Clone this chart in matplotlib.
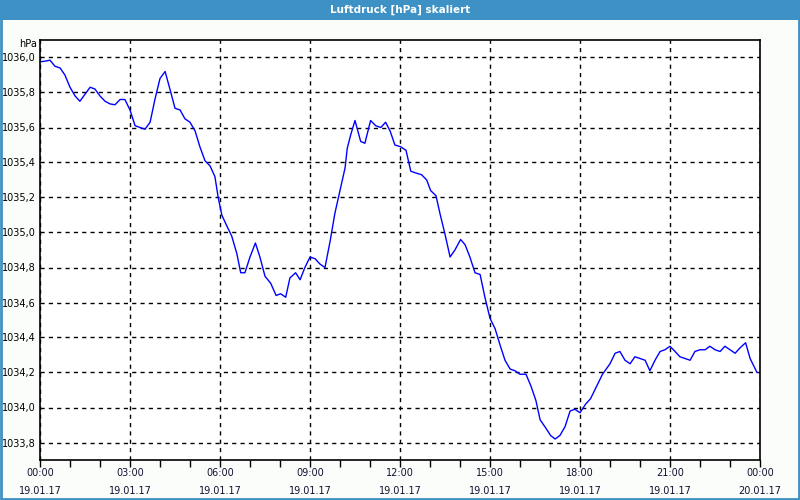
import numpy as np
import pandas as pd
import matplotlib
matplotlib.use('Agg')
import matplotlib.pyplot as plt
import matplotlib.dates as mdates
from matplotlib.patches import Rectangle
from matplotlib.ticker import FuncFormatter

# Hours after 19.01.17 00:00 and air pressure in hPa
hours = [
    0.0, 0.2, 0.33, 0.5, 0.67, 0.83, 1.0, 1.17, 1.33, 1.5, 1.67, 1.83,
    2.0, 2.17, 2.33, 2.5, 2.67, 2.83, 3.0, 3.17, 3.33, 3.5, 3.67, 3.83,
    4.0, 4.17, 4.33, 4.5, 4.67, 4.83, 5.0, 5.17, 5.33, 5.5, 5.67, 5.83,
    5.94, 6.06, 6.22, 6.39, 6.56, 6.69, 6.83, 7.0, 7.18, 7.33, 7.5, 7.69,
    7.87, 8.02, 8.19, 8.33, 8.52, 8.67, 8.83, 9.0, 9.17, 9.33, 9.5, 9.67,
    9.83, 10.0, 10.17, 10.24, 10.36, 10.5, 10.69, 10.83, 11.02, 11.19, 11.36, 11.52,
    11.67, 11.83, 12.02, 12.2, 12.36, 12.53, 12.72, 12.89, 13.02, 13.2, 13.33, 13.5,
    13.67, 13.83, 14.02, 14.17, 14.33, 14.5, 14.67, 14.83, 15.0, 15.17, 15.33, 15.5,
    15.67, 15.83, 16.0, 16.2, 16.37, 16.53, 16.67, 16.87, 17.02, 17.17, 17.33, 17.5,
    17.67, 17.83, 18.0, 18.19, 18.35, 18.55, 18.75, 19.0, 19.17, 19.33, 19.5, 19.67,
    19.83, 20.0, 20.17, 20.33, 20.5, 20.67, 20.83, 21.0, 21.17, 21.33, 21.5, 21.67,
    21.83, 22.0, 22.17, 22.33, 22.5, 22.67, 22.83, 23.0, 23.17, 23.33, 23.52, 23.67,
    23.9,
]
pressure = [
    1035.975, 1035.98, 1035.985, 1035.95, 1035.94, 1035.90, 1035.83, 1035.78, 1035.75, 1035.79, 1035.83, 1035.82,
    1035.78, 1035.75, 1035.735, 1035.73, 1035.76, 1035.76, 1035.70, 1035.61, 1035.60, 1035.59, 1035.63, 1035.76,
    1035.88, 1035.92, 1035.82, 1035.71, 1035.70, 1035.65, 1035.63, 1035.58, 1035.49, 1035.41, 1035.38, 1035.32,
    1035.20, 1035.10, 1035.04, 1034.98, 1034.88, 1034.77, 1034.77, 1034.86, 1034.94, 1034.86, 1034.75, 1034.71,
    1034.64, 1034.65, 1034.63, 1034.74, 1034.77, 1034.73, 1034.80, 1034.86, 1034.85, 1034.82, 1034.80, 1034.95,
    1035.11, 1035.24, 1035.37, 1035.48, 1035.56, 1035.64, 1035.52, 1035.51, 1035.64, 1035.61, 1035.60, 1035.63,
    1035.58, 1035.50, 1035.49, 1035.47, 1035.35, 1035.34, 1035.33, 1035.30, 1035.24, 1035.21, 1035.11, 1034.99,
    1034.86, 1034.90, 1034.96, 1034.93, 1034.86, 1034.77, 1034.76, 1034.63, 1034.51, 1034.45, 1034.36, 1034.27,
    1034.22, 1034.21, 1034.19, 1034.19, 1034.12, 1034.04, 1033.93, 1033.88, 1033.84, 1033.82, 1033.84, 1033.89,
    1033.98, 1033.99, 1033.97, 1034.02, 1034.05, 1034.12, 1034.19, 1034.25, 1034.31, 1034.32, 1034.27, 1034.25,
    1034.29, 1034.28, 1034.27, 1034.21, 1034.27, 1034.32, 1034.33, 1034.35, 1034.32, 1034.29, 1034.28, 1034.27,
    1034.32, 1034.33, 1034.33, 1034.35, 1034.33, 1034.32, 1034.35, 1034.33, 1034.31, 1034.34, 1034.37, 1034.28,
    1034.20,
]
y_ticks = [1033.8, 1034.0, 1034.2, 1034.4, 1034.6, 1034.8, 1035.0, 1035.2, 1035.4, 1035.6, 1035.8, 1036.0]
title = 'Luftdruck [hPa] skaliert'
unit = 'hPa'

start = pd.Timestamp('2017-01-19 00:00')
times = start + pd.to_timedelta(hours, unit='h')

bg = '#fbfdfb'
bar_blue = '#3d91c4'

fig = plt.figure(figsize=(8, 5), dpi=100, facecolor=bg)

# title bar and blue frame
fig.patches.append(Rectangle((0, 0.96), 1, 0.04, transform=fig.transFigure,
                             facecolor=bar_blue, edgecolor='none', zorder=0))
fig.patches.append(Rectangle((0.001, 0.002), 0.998, 0.996, transform=fig.transFigure,
                             facecolor='none', edgecolor=bar_blue, linewidth=2, zorder=1))
fig.text(0.5, 0.98, title, color='white', fontsize=7.5, fontweight='bold',
         ha='center', va='center')

ax = fig.add_axes([0.05, 0.08, 0.9, 0.84], facecolor='white')
ax.plot(times, pressure, color='#0000ff', linewidth=1)

ax.set_xlim(start, start + pd.Timedelta(hours=24))
ax.set_ylim(1033.7, 1036.1)

ax.xaxis.set_major_locator(mdates.HourLocator(byhour=range(0, 24, 3)))
ax.xaxis.set_minor_locator(mdates.HourLocator())
ax.xaxis.set_major_formatter(mdates.DateFormatter('%H:%M\n%d.%m.%y'))
ax.set_yticks(y_ticks)
ax.yaxis.set_major_formatter(FuncFormatter(lambda v, p: f'{v:.1f}'.replace('.', ',')))

ax.tick_params(axis='x', which='major', length=5, width=1, labelsize=7, pad=1,
               direction='out', colors='black', labelcolor='#101030')
ax.tick_params(axis='x', which='minor', length=5, width=1, direction='out')
ax.tick_params(axis='y', length=0, labelsize=7, pad=3)
for lbl in ax.get_xticklabels():
    lbl.set_linespacing(1.9)

ax.grid(True, which='major', color='black', linestyle=(0, (3, 3)), linewidth=1)
for s in ax.spines.values():
    s.set_linewidth(1.2)
    s.set_color('black')

ax.text(-0.004, 0.99, unit, transform=ax.transAxes, ha='right', va='center', fontsize=7)

plt.savefig('out.png', dpi=100, facecolor=bg)
